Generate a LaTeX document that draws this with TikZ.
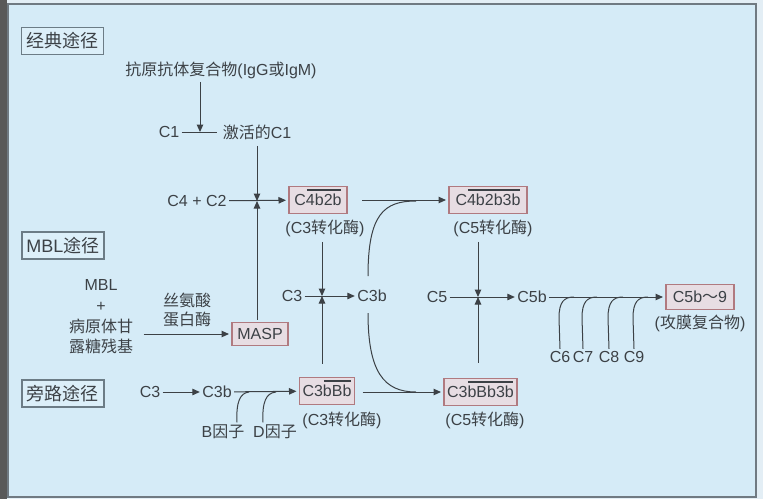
\documentclass[tikz,border=0pt]{standalone}
\usepackage{fontspec}
\setmainfont{Liberation Sans}
\newfontfamily\cjk{Noto Sans CJK SC}
\usetikzlibrary{arrows.meta}
\definecolor{bgout}{HTML}{E3EEF5}
\definecolor{bgin}{HTML}{D5EBF7}
\definecolor{ink}{HTML}{3C4146}
\definecolor{boxfill}{HTML}{E7DDE3}
\definecolor{boxdraw}{HTML}{B07A80}
\definecolor{secdraw}{HTML}{6C7C86}
\definecolor{secfill}{HTML}{DCEFF9}
\definecolor{framec}{HTML}{707A82}
\newsavebox\ovlbox
\newcommand\zh[1]{{\cjk #1}}
\newcommand\ovl[1]{\sbox\ovlbox{#1}\rlap{\hspace{0.8pt}\smash{\raisebox{15pt}{\rule{\dimexpr\wd\ovlbox-1.6pt\relax}{1.3pt}}}}\usebox\ovlbox}
\begin{document}
\begin{tikzpicture}[x=1pt,y=-1pt,
  every node/.style={text=ink, font=\fontsize{16}{18}\selectfont, inner sep=0pt, outer sep=2.5pt},
  enz/.style={draw=boxdraw, fill=boxfill, line width=1.2pt, outer sep=3pt, minimum height=27pt},
  sec/.style={draw=secdraw, fill=secfill, line width=1.2pt, outer sep=0pt,
    font=\fontsize{18}{20}\selectfont\cjk, minimum width=82pt, minimum height=27pt},
  ln/.style={draw=ink, line width=1pt},
  arr/.style={ln, -{Triangle[length=7.5pt,width=6.5pt]}},
]
\useasboundingbox (0,0) rectangle (763,499);
% background
\fill[bgout] (0,0) rectangle (763,499);
\fill[black!65] (0,0) rectangle (7,499);
\filldraw[fill=bgin, draw=framec, line width=1.5pt] (8,4) rectangle (756,497);

% section labels
\node[sec] (s1) at (62.5,41) {经典途径};
\node[sec] (s2) at (63,245.5) {\textrm{MBL}途径};
\node[sec] (s3) at (63,393.5) {旁路途径};

% classical pathway
\node (ag) at (221,70) {\zh{抗原抗体复合物}(IgG\zh{或}IgM)};
\node (c1) at (169,132) {C1};
\node (ac1) at (257,132) {\zh{激活的}C1};
\coordinate (j1) at (200,132);
\draw[ln, shorten >=3pt] (c1) -- (ac1);
\draw[arr, shorten <=1pt] (ag.south -| j1) -- (j1);

\node (c4c2) at (197,201) {C4 + C2};
\coordinate (j2) at (257,201);
\node[enz, minimum width=58pt] (c4b2b) at (318,200) {C\ovl{4b2b}};
\node (cv1) at (325,228) {(C3\zh{转化酶})};
\node[enz, minimum width=78pt] (c4b2b3b) at (488,200) {C\ovl{4b2b3b}};
\node (cv2) at (493,228) {(C5\zh{转化酶})};
\draw[arr] (c4c2) -- (c4b2b);
\draw[arr, shorten <=4pt] (ac1.south -| j2) -- (j2);

% MBL pathway
\node[align=center, font=\fontsize{16}{20.7}\selectfont] (mbl) at (101,317)
  {MBL\\+\\\zh{病原体甘}\\\zh{露糖残基}};
\node[align=center, font=\fontsize{16}{19}\selectfont] (ser) at (187,309.5)
  {\zh{丝氨酸}\\\zh{蛋白酶}};
\node[enz, minimum width=56pt, minimum height=23pt] (masp) at (260,334) {MASP};
\draw[arr, shorten <=8pt] (mbl.east |- masp) -- (masp);
\draw[arr] (masp.north -| j2) -- (j2);

% C3 cleavage
\node (c3a) at (292,296) {C3};
\node (c3b) at (372,296) {C3b};
\coordinate (j3) at (322,296);
\draw[arr] (c3a) -- (c3b);
\draw[arr, shorten <=3pt] (cv1.south -| j3) -- (j3);

% alternative pathway
\node (c3alt) at (150,392) {C3};
\node (c3balt) at (217,392) {C3b};
\node[enz, minimum width=55pt] (c3bbb) at (327,391) {C3\ovl{bBb}};
\node (cv3) at (342,420) {(C3\zh{转化酶})};
\node[enz, minimum width=73pt] (c3bbb3b) at (480.5,392) {C3\ovl{bBb3b}};
\node (cv4) at (485,420) {(C5\zh{转化酶})};
\draw[arr] (c3alt) -- (c3balt);
\draw[arr] (c3balt) -- (c3bbb);
\draw[arr, shorten <=11pt] (c3bbb.north -| j3) -- (j3);

\node (bf) at (223,432) {B\zh{因子}};
\node (df) at (275,432) {D\zh{因子}};
\coordinate (bj) at (249,392);
\coordinate (dj) at (276,392);
\draw[ln] (bf.north -| 237,0) .. controls (236,402) and (240,393) .. (bj);
\draw[ln] (df.north -| 263,0) .. controls (262,402) and (266,393) .. (dj);

% C3b to C5 convertases
\coordinate (cu1) at (368,276);
\coordinate (cu2) at (368,313);
\coordinate (m1) at (416,201);
\coordinate (m2) at (416,392);
\draw[ln] (cu1) .. controls (368,214) and (384,201) .. (m1);
\draw[ln] (cu2) .. controls (368,372) and (384,392) .. (m2);
\draw[arr, shorten <=12pt] (c4b2b) -- (c4b2b3b);
\draw[arr, shorten <=5pt] (c3bbb.east |- c3bbb3b) -- (c3bbb3b);

% C5 cleavage
\node (c5) at (437,297) {C5};
\node (c5b) at (532,297) {C5b};
\coordinate (j4) at (478,297);
\draw[arr] (c5) -- (c5b);
\draw[arr, shorten <=3pt] (cv2.south -| j4) -- (j4);
\draw[arr, shorten <=13pt] (c3bbb3b.north -| j4) -- (j4);

% MAC
\node[enz, minimum width=68pt, minimum height=25pt] (mac) at (700,297) {C5b\zh{～}9};
\node (macl) at (700,323) {(\zh{攻膜复合物})};
\draw[arr] (c5b) -- (mac);
\foreach \n/\x in {6/560,7/583,8/609,9/634} {
  \node (c\n) at (\x,357) {C\n};
  \draw[ln] (c\n.north) -- (\x-1,318) .. controls (\x-1,302) and (\x+4,297) .. (\x+14,297);
}
\end{tikzpicture}
\end{document}
